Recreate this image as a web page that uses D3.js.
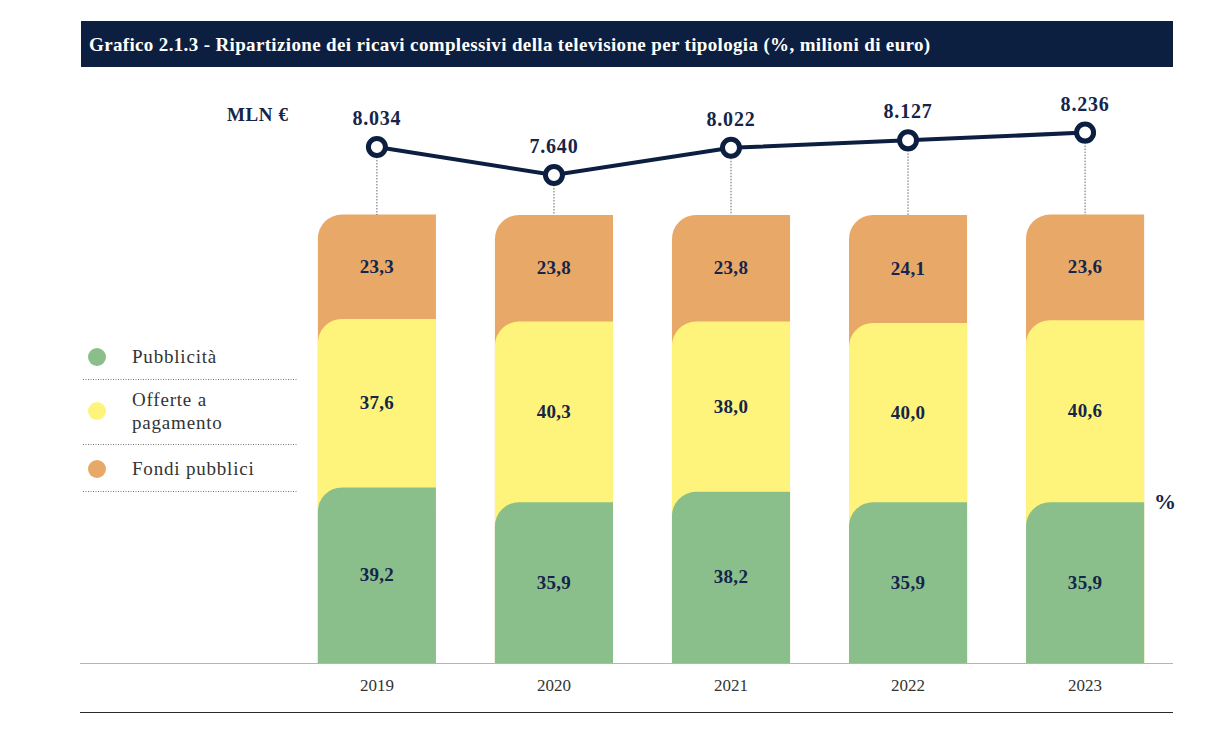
<!DOCTYPE html>
<html>
<head>
<meta charset="utf-8">
<script src="https://cdn.jsdelivr.net/npm/d3@7"></script>
<style>
  html, body { margin: 0; padding: 0; background: #fff; }
  svg { display: block; }
  text { font-family: "Liberation Serif", "DejaVu Serif", serif; }
</style>
</head>
<body>
<svg id="chart" width="1225" height="753"></svg>
<script>
// data
var years = ["2019", "2020", "2021", "2022", "2023"];
var pubblicita = [39.2, 35.9, 38.2, 35.9, 35.9];
var offerte = [37.6, 40.3, 38.0, 40.0, 40.6];
var fondi = [23.3, 23.8, 23.8, 24.1, 23.6];
var totale = [8034, 7640, 8022, 8127, 8236];
var seriesNames = ["Pubblicità", "Offerte a pagamento", "Fondi pubblici"];
var seriesColors = ["#8abf8c", "#fff47b", "#e8a867"];

var it = d3.formatLocale({decimal: ",", thousands: ".", grouping: [3], currency: ["", " €"]});
var fmtPct = it.format(".1f");
var fmtMln = it.format(",d");

var navy = "#0c1f40";
var labelCol = "#15254a";
var svg = d3.select("#chart");

/// Title band
svg.append("rect")
  .attr("x", 81).attr("y", 21).attr("width", 1092).attr("height", 46)
  .attr("fill", navy);
svg.append("text")
  .attr("x", 89).attr("y", 51)
  .attr("fill", "#fff").attr("font-size", 19).attr("font-weight", "bold")
  .attr("letter-spacing", 0.35)
  .text("Grafico 2.1.3 - Ripartizione dei ricavi complessivi della televisione per tipologia (%, milioni di euro)");

/// Scales
var x = d3.scaleBand().domain(years).range([286, 1176]).paddingInner(0.333).paddingOuter(0.18);
var y = d3.scaleLinear().domain([0, 100]).range([663, 215]);
var yl = d3.scaleLinear().domain([7640, 8236]).range([175, 132.6]);

/// Stack: each segment drawn from its cumulative top down to the baseline
var table = years.map(function(yr, i) {
  return {year: yr, s0: pubblicita[i], s1: offerte[i], s2: fondi[i]};
});
var stack = d3.stack().keys(["s0", "s1", "s2"])(table);

var r = 24;
function segPath(x0, w, top, base) {
  return "M" + x0 + "," + (top + r) +
    " A" + r + "," + r + " 0 0 1 " + (x0 + r) + "," + top +
    " H" + (x0 + w) + " V" + base + " H" + x0 + " Z";
}

// draw top series first so lower ones sit over them
stack.slice().reverse().forEach(function(layer) {
  var k = layer.index;
  svg.append("g").selectAll("path")
    .data(layer)
    .join("path")
    .attr("d", function(d) { return segPath(x(d.data.year), x.bandwidth(), y(d[1]), y(0)); })
    .attr("fill", seriesColors[k]);
});

stack.forEach(function(layer) {
  svg.append("g").selectAll("text")
    .data(layer)
    .join("text")
    .attr("x", function(d) { return x(d.data.year) + x.bandwidth() / 2; })
    .attr("y", function(d) { return (y(d[0]) + y(d[1])) / 2 + 6; })
    .attr("text-anchor", "middle")
    .attr("font-size", 19).attr("font-weight", "bold")
    .attr("letter-spacing", 0.3)
    .attr("fill", labelCol)
    .text(function(d) { return fmtPct(d[1] - d[0]); });
});

/// Baseline and bottom rule
svg.append("line").attr("x1", 80).attr("x2", 1173).attr("y1", 663.5).attr("y2", 663.5)
  .attr("stroke", "#b5b5b5").attr("stroke-width", 1);
svg.append("line").attr("x1", 80).attr("x2", 1173).attr("y1", 712.5).attr("y2", 712.5)
  .attr("stroke", "#2b2b2b").attr("stroke-width", 1);

var xAxis = svg.append("g").attr("transform", "translate(0,663)")
  .call(d3.axisBottom(x).tickSize(0).tickPadding(16));
xAxis.select(".domain").remove();
xAxis.selectAll("text")
  .attr("font-family", "'Liberation Serif', serif")
  .attr("font-size", 17).attr("fill", "#333");

/// Dotted droplines
var cx = function(yr) { return x(yr) + x.bandwidth() / 2; };
svg.append("g").selectAll("line")
  .data(years)
  .join("line")
  .attr("x1", cx).attr("x2", cx)
  .attr("y1", function(d, i) { return yl(totale[i]) + 10; })
  .attr("y2", 215)
  .attr("stroke", "#666").attr("stroke-width", 1)
  .attr("stroke-dasharray", "1.5,1.5");

/// Total revenue line
var line = d3.line()
  .x(function(d, i) { return cx(years[i]); })
  .y(function(d) { return yl(d); });
svg.append("path").datum(totale)
  .attr("d", line).attr("fill", "none")
  .attr("stroke", navy).attr("stroke-width", 4);
svg.append("g").selectAll("circle")
  .data(totale)
  .join("circle")
  .attr("cx", function(d, i) { return cx(years[i]); })
  .attr("cy", yl)
  .attr("r", 8.5)
  .attr("fill", "#fff").attr("stroke", navy).attr("stroke-width", 5);
svg.append("g").selectAll("text")
  .data(totale)
  .join("text")
  .attr("x", function(d, i) { return cx(years[i]); })
  .attr("y", function(d) { return yl(d) - 22; })
  .attr("text-anchor", "middle")
  .attr("font-size", 20).attr("font-weight", "bold").attr("fill", labelCol)
  .attr("letter-spacing", 0.8)
  .text(fmtMln);

svg.append("text").attr("x", 227).attr("y", 121)
  .attr("font-size", 19).attr("font-weight", "bold").attr("fill", labelCol)
  .attr("letter-spacing", 0.6)
  .text("MLN €");
svg.append("text").attr("x", 1154).attr("y", 509)
  .attr("font-size", 22).attr("font-weight", "bold").attr("fill", labelCol)
  .text("%");

/// Legend
var legRows = [
  {lines: ["Pubblicità"], cy: 357, sep: 379},
  {lines: ["Offerte a", "pagamento"], cy: 411, sep: 444},
  {lines: ["Fondi pubblici"], cy: 469, sep: 491}
];
var leg = svg.append("g");
legRows.forEach(function(row, i) {
  leg.append("circle").attr("cx", 97).attr("cy", row.cy).attr("r", 9)
    .attr("fill", seriesColors[i]);
  row.lines.forEach(function(t, j) {
    var off = (j - (row.lines.length - 1) / 2) * 23;
    leg.append("text").attr("x", 132).attr("y", row.cy + off + 6)
      .attr("font-size", 19).attr("fill", "#333")
      .attr("letter-spacing", 0.8).text(t);
  });
  leg.append("line").attr("x1", 83).attr("x2", 297)
    .attr("y1", row.sep + 0.5).attr("y2", row.sep + 0.5)
    .attr("stroke", "#777").attr("stroke-width", 1).attr("stroke-dasharray", "1,1.5");
});
</script>
</body>
</html>
